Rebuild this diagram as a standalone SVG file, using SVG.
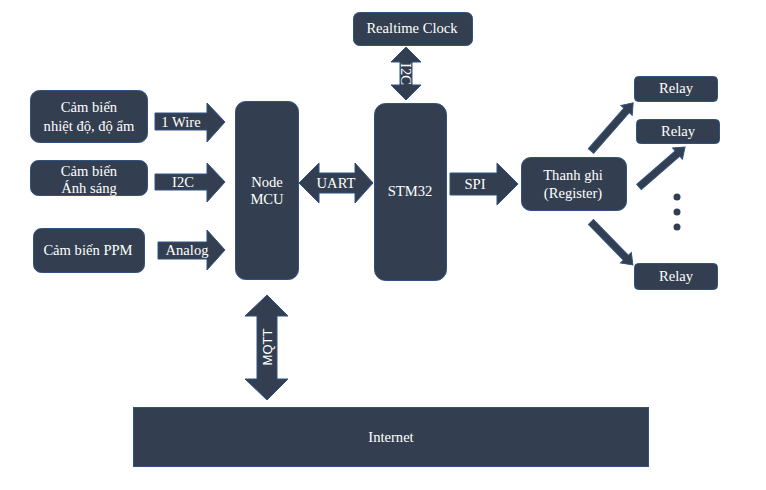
<svg xmlns="http://www.w3.org/2000/svg" width="766" height="490" viewBox="0 0 766 490">
<style>
.n{fill:#333f50;stroke:#2f5283;stroke-width:1}
.a{fill:#333f50;stroke:#2f5283;stroke-width:1}
.t{font-family:'Liberation Serif','DejaVu Serif',serif;font-size:14.6px;fill:#ffffff;text-anchor:middle}
.s{font-family:'Liberation Sans',Arial,sans-serif;font-size:13px;fill:#ffffff;text-anchor:middle}
</style>
<rect width="766" height="490" fill="#ffffff"/>
<g id="sensor-temp"><rect class="n" x="30.5" y="90.5" width="117" height="52" rx="9"/><text class="t" x="89" y="112">Cảm biến</text><text class="t" x="89" y="131">nhiệt độ, độ ẩm</text></g>
<g id="sensor-light"><rect class="n" x="30.5" y="160.5" width="117" height="35" rx="8"/><text class="t" x="89" y="176">Cảm biến</text><text class="t" x="89" y="193">Ánh sáng</text></g>
<g id="sensor-ppm"><rect class="n" x="33.5" y="228.5" width="111" height="44" rx="8"/><text class="t" x="88" y="255">Cảm biến PPM</text></g>
<g id="node-mcu"><rect class="n" x="235.5" y="101.5" width="63" height="178" rx="10"/><text class="t" x="267" y="187">Node</text><text class="t" x="267" y="204">MCU</text></g>
<g id="stm32"><rect class="n" x="374.5" y="103.5" width="72" height="177" rx="11"/><text class="t" x="410" y="196">STM32</text></g>
<g id="rtc"><rect class="n" x="353.5" y="12.5" width="119" height="33" rx="6"/><text class="t" x="412" y="33">Realtime Clock</text></g>
<g id="register"><rect class="n" x="521.5" y="157.5" width="105" height="53" rx="9"/><text class="t" x="573" y="180">Thanh ghi</text><text class="t" x="573" y="198">(Register)</text></g>
<g id="relay1"><rect class="n" x="634.5" y="76.5" width="83" height="25" rx="4"/><text class="t" x="676" y="93">Relay</text></g>
<g id="relay2"><rect class="n" x="636.5" y="119.5" width="83" height="24" rx="4"/><text class="t" x="678" y="136">Relay</text></g>
<g id="relay3"><rect class="n" x="634.5" y="263.5" width="83" height="26" rx="4"/><text class="t" x="676" y="281">Relay</text></g>
<g id="internet"><rect class="n" x="133.5" y="407.5" width="515" height="59"/><text class="t" x="391" y="442">Internet</text></g>
<g id="dots" fill="#333f50"><circle cx="677" cy="197" r="3.5"/><circle cx="677" cy="212" r="3.5"/><circle cx="677" cy="227" r="3.5"/></g>
<g id="connectors">
<polygon class="a" points="155,113 207,113 207,103 225,122 207,142 207,130 155,130"/>
<text class="t" x="181" y="127">1 Wire</text>
<polygon class="a" points="155,174 207,174 207,163 225,182 207,202 207,190 155,190"/>
<text class="t" x="183" y="187">I2C</text>
<polygon class="a" points="158,242 207,242 207,230 225,250 207,270 207,259 158,259"/>
<text class="t" x="187" y="255">Analog</text>
<polygon class="a" points="299,183 319,163 319,173 355,173 355,163 373,183 355,203 355,193 319,193 319,203"/>
<text class="t" x="336" y="188">UART</text>
<polygon class="a" points="406,47 421,62 412,62 412,85 421,85 406,100 391,85 400,85 400,62 391,62"/>
<text class="t" transform="translate(406,74) rotate(90)" y="5">I2C</text>
<polygon class="a" points="450,173 497,173 497,163 518,184 497,205 497,195 450,195"/>
<text class="t" x="475" y="189">SPI</text>
<polygon class="a" points="267,295 288,316 277,316 277,379 288,379 267,400 245,379 257,379 257,316 245,316"/>
<text class="s" transform="translate(267,347) rotate(-90)" y="5">MQTT</text>
<g transform="translate(591,151) rotate(-48.8)"><polygon class="a" points="0,-3.5 54,-3.5 54,-7.5 64,0 54,7.5 54,3.5 0,3.5"/></g>
<g transform="translate(639,187) rotate(-41)"><polygon class="a" points="0,-3.5 51,-3.5 51,-7.5 61,0 51,7.5 51,3.5 0,3.5"/></g>
<g transform="translate(591,222) rotate(45.7)"><polygon class="a" points="0,-3.5 50,-3.5 50,-7.5 60,0 50,7.5 50,3.5 0,3.5"/></g>
</g>
</svg>
